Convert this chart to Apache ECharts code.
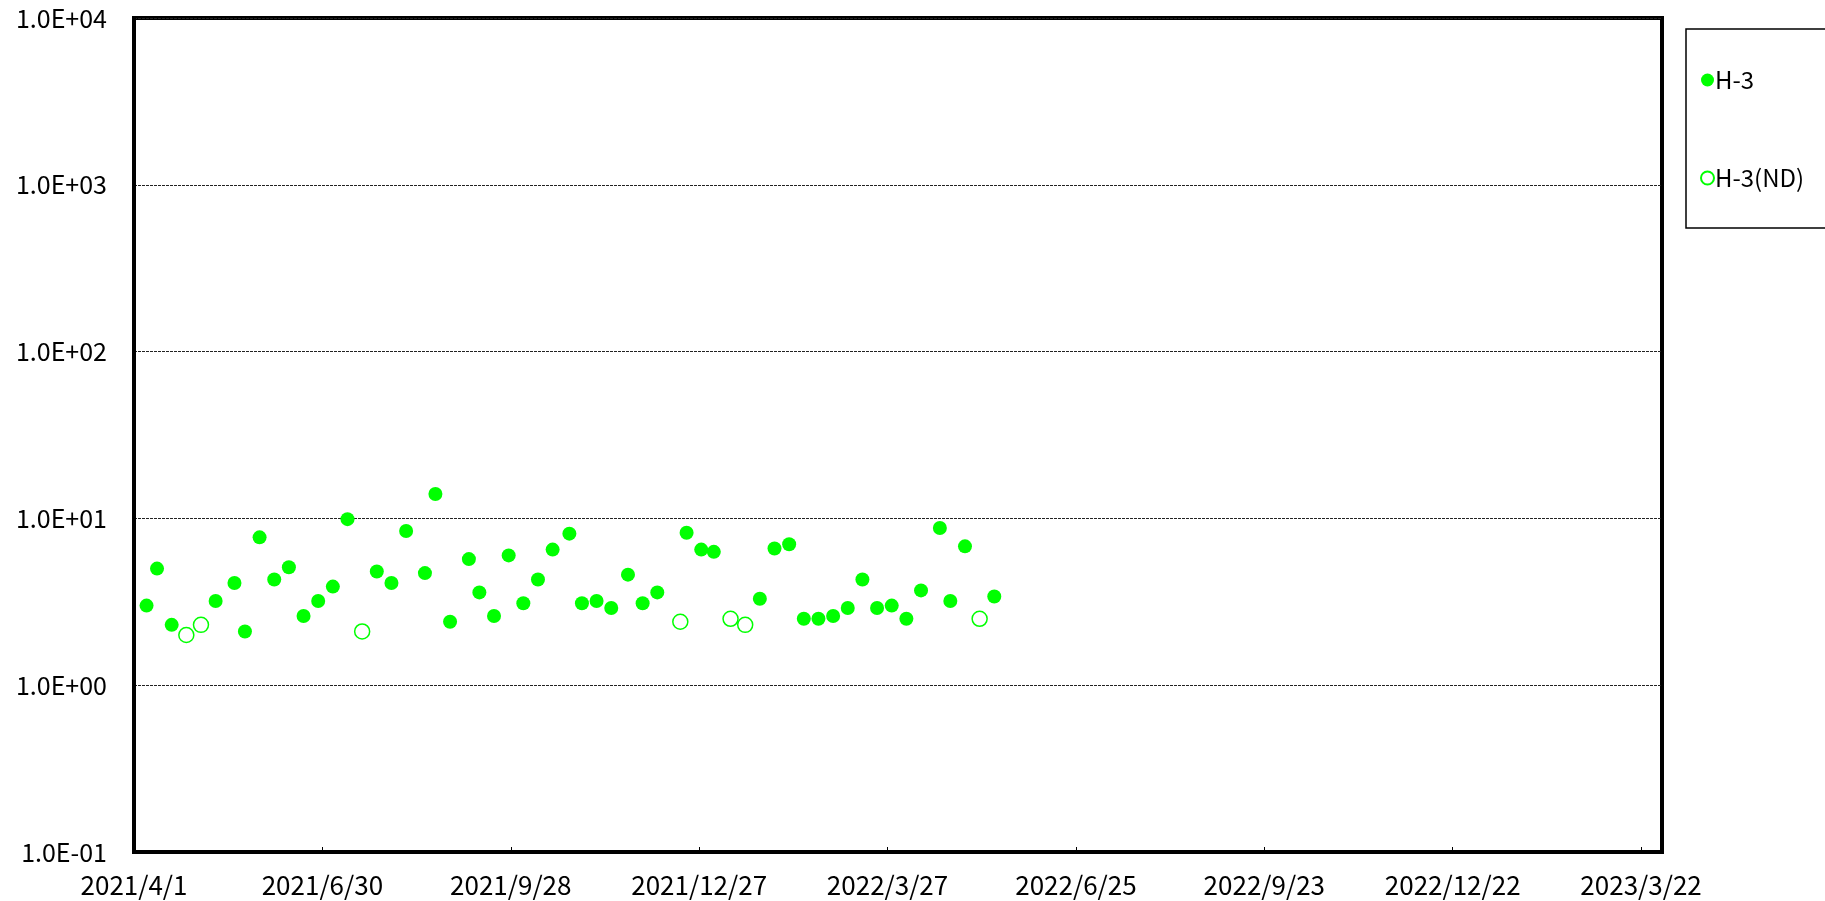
<!DOCTYPE html>
<html>
<head>
<meta charset="utf-8">
<script src="https://cdn.jsdelivr.net/npm/echarts@6/dist/echarts.min.js"></script>
<style>
html,body{margin:0;padding:0;background:#fff;}
#chart{width:1825px;height:901px;}
</style>
</head>
<body>
<div id="chart"></div>
<script>
// ---- data ----
const originDate = '2021/4/1';
const xTickStepDays = 90;
const xSpanDays = 730;

const h3Dates = [
  '2021/4/7','2021/4/12','2021/4/19','2021/5/10','2021/5/19','2021/5/24','2021/5/31',
  '2021/6/7','2021/6/14','2021/6/21','2021/6/28','2021/7/5','2021/7/12','2021/7/26',
  '2021/8/2','2021/8/9','2021/8/18','2021/8/23','2021/8/30','2021/9/8','2021/9/13',
  '2021/9/20','2021/9/27','2021/10/4','2021/10/11','2021/10/18','2021/10/26','2021/11/1',
  '2021/11/8','2021/11/15','2021/11/23','2021/11/30','2021/12/7','2021/12/21','2021/12/28',
  '2022/1/3','2022/1/25','2022/2/1','2022/2/8','2022/2/15','2022/2/22','2022/3/1',
  '2022/3/8','2022/3/15','2022/3/22','2022/3/29','2022/4/5','2022/4/12','2022/4/21',
  '2022/4/26','2022/5/3','2022/5/17'
];
const h3Values = [
  3.0, 5.0, 2.3, 3.2, 4.1, 2.1, 7.7,
  4.3, 5.1, 2.6, 3.2, 3.9, 9.9, 4.8,
  4.1, 8.4, 4.7, 14, 2.4, 5.7, 3.6,
  2.6, 6.0, 3.1, 4.3, 6.5, 8.1, 3.1,
  3.2, 2.9, 4.6, 3.1, 3.6, 8.2, 6.5,
  6.3, 3.3, 6.6, 7.0, 2.5, 2.5, 2.6,
  2.9, 4.3, 2.9, 3.0, 2.5, 3.7, 8.75,
  3.2, 6.8, 3.4
];
const ndDates = ['2021/4/26','2021/5/3','2021/7/19','2021/12/18','2022/1/11','2022/1/18','2022/5/10'];
const ndValues = [2.0, 2.3, 2.1, 2.4, 2.5, 2.3, 2.5];

// ---- helpers ----
function utc(s){ const p = s.split('/').map(Number); return Date.UTC(p[0], p[1]-1, p[2]); }
function dayNum(s){ return Math.round((utc(s) - utc(originDate)) / 864e5); }
function dayLabel(d){
  const dt = new Date(utc(originDate) + d * 864e5);
  return dt.getUTCFullYear() + '/' + (dt.getUTCMonth()+1) + '/' + dt.getUTCDate();
}
function expLabel(v){
  const e = Math.round(Math.log10(v));
  const a = Math.abs(e);
  return '1.0E' + (e < 0 ? '-' : '+') + (a < 10 ? '0' : '') + a;
}

const green = '#00FF00';
const font = '"Noto Sans CJK JP", "Noto Sans", sans-serif';

const chart = echarts.init(document.getElementById('chart'));
chart.setOption({
  animation: false,
  backgroundColor: '#fff',
  grid: {
    left: 134, right: 163, top: 18, bottom: 49,
    show: true, borderColor: '#000', borderWidth: 4, backgroundColor: 'transparent'
  },
  legend: {
    orient: 'vertical',
    left: 1686, top: 29,
    padding: [39, 60, 38, 14],
    itemGap: 74,
    itemWidth: 13, itemHeight: 13,
    borderColor: '#000', borderWidth: 1.5,
    textStyle: { fontFamily: font, fontSize: 24, color: '#000', padding: [0, 0, 0, -4] },
    data: ['H-3', 'H-3(ND)']
  },
  xAxis: {
    type: 'value',
    min: 0, max: xSpanDays, interval: xTickStepDays,
    axisLine: { show: true, lineStyle: { color: '#000', width: 4 } },
    axisTick: { show: true, inside: true, length: 5, lineStyle: { color: '#000', width: 1 } },
    splitLine: { show: false },
    axisLabel: {
      showMaxLabel: false,
      margin: 20,
      fontFamily: font, fontSize: 26, color: '#000',
      formatter: v => dayLabel(v)
    }
  },
  yAxis: {
    type: 'log', logBase: 10,
    min: 0.1, max: 10000,
    axisLine: { show: true, lineStyle: { color: '#000', width: 4 } },
    axisTick: { show: false },
    splitLine: { show: true, lineStyle: { color: '#222', width: 1, type: [3, 1] } },
    axisLabel: {
      margin: 27,
      fontFamily: font, fontSize: 25, color: '#000',
      formatter: v => expLabel(v)
    }
  },
  series: [
    {
      name: 'H-3', type: 'scatter',
      symbol: 'circle', symbolSize: 14,
      itemStyle: { color: green, opacity: 1 },
      data: h3Dates.map((d, i) => [dayNum(d), h3Values[i]])
    },
    {
      name: 'H-3(ND)', type: 'scatter',
      symbol: 'circle', symbolSize: 15,
      itemStyle: { color: '#fff', borderColor: green, borderWidth: 1.5, opacity: 1 },
      data: ndDates.map((d, i) => [dayNum(d), ndValues[i]])
    }
  ]
});
</script>
</body>
</html>
